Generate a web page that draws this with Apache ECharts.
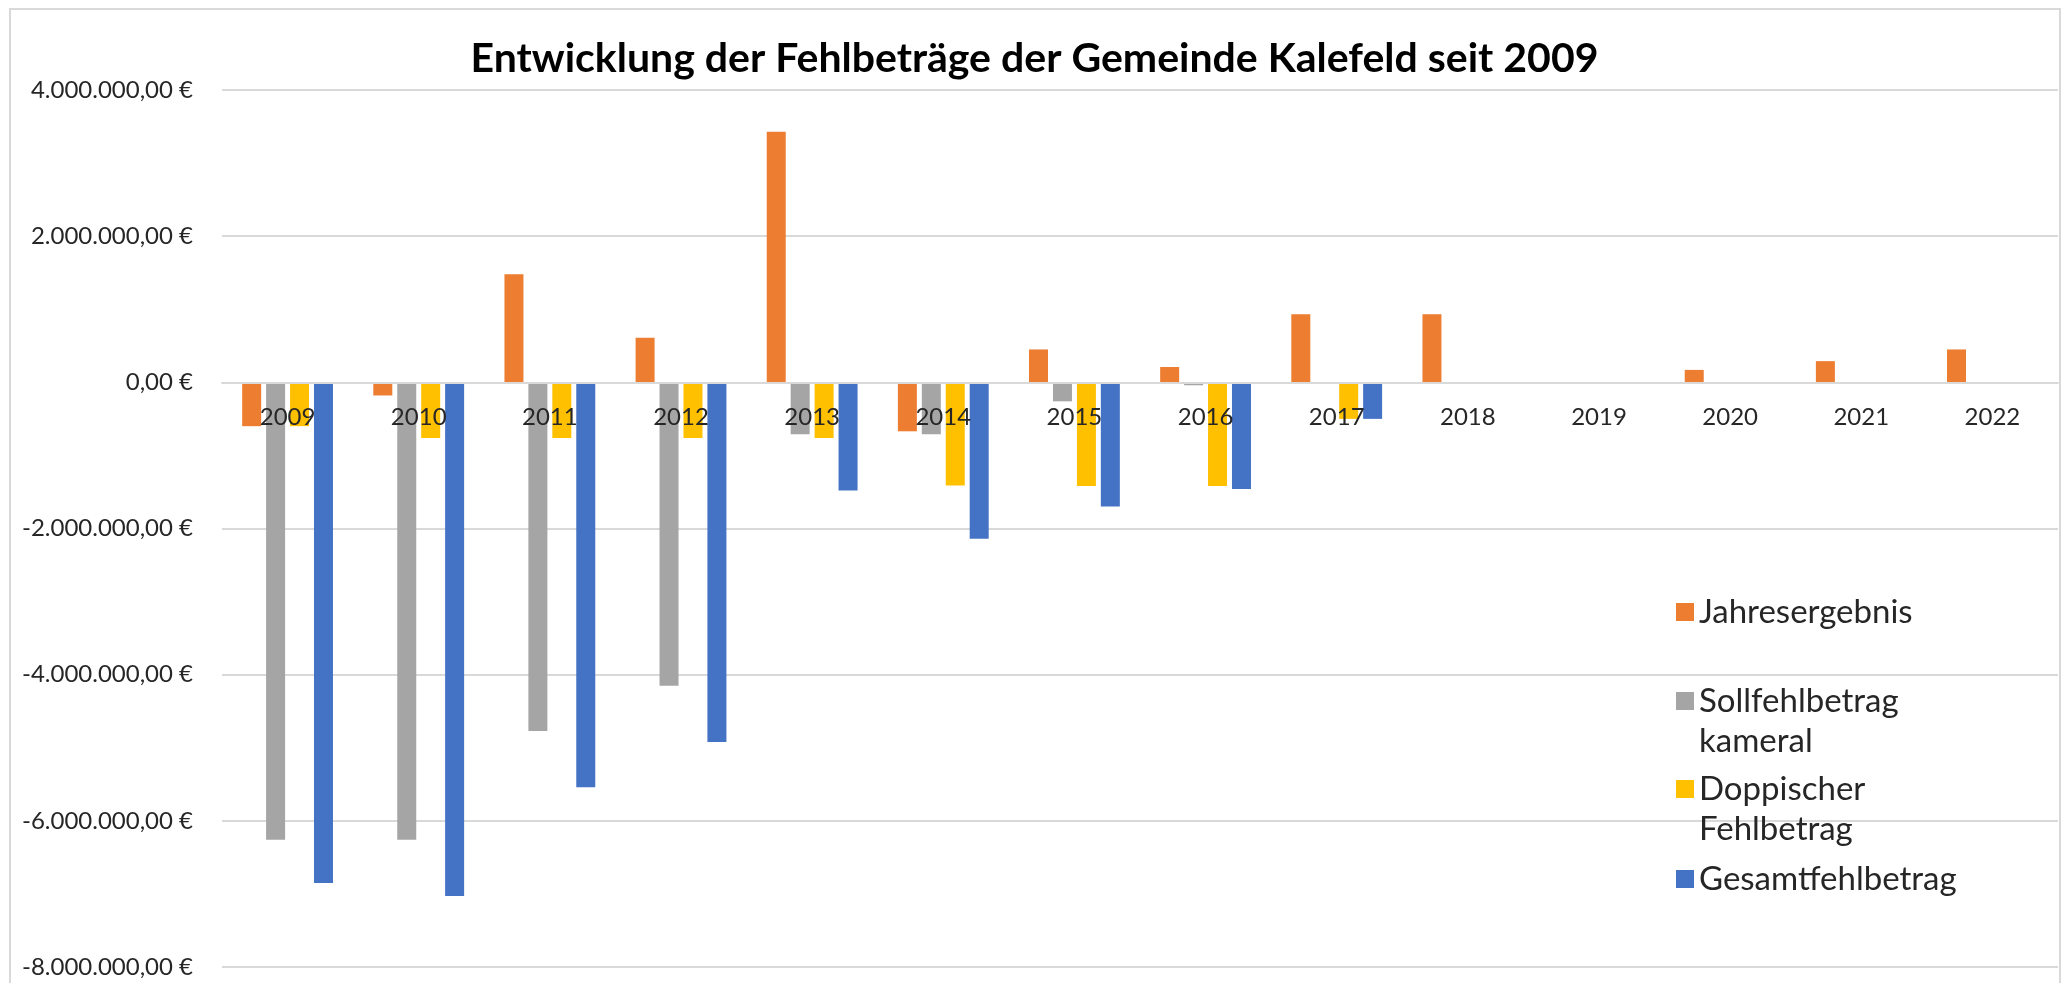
<!DOCTYPE html>
<html>
<head>
<meta charset="utf-8">
<title>Fehlbeträge Kalefeld</title>
<script src="https://cdn.jsdelivr.net/npm/echarts@6/dist/echarts.min.js"></script>
<style>
  html, body { margin: 0; padding: 0; background: #fff; }
  #mainChart { width: 2069px; height: 983px; }
</style>
</head>
<body>
<div id="mainChart"></div>
<script>
// Jahre
const years = ['2009', '2010', '2011', '2012', '2013', '2014', '2015', '2016', '2017', '2018', '2019', '2020', '2021', '2022'];

// Werte in Euro
const jahresergebnis = [-600000, -180000, 1480000, 610000, 3430000, -670000, 450000, 210000, 930000, 930000, 0, 170000, 290000, 450000];
const sollfehlbetrag = [-6260000, -6260000, -4770000, -4150000, -710000, -710000, -260000, -40000, 0, 0, 0, 0, 0, 0];
const doppischer = [-600000, -760000, -760000, -760000, -760000, -1410000, -1420000, -1420000, -500000, 0, 0, 0, 0, 0];
const gesamtfehlbetrag = [-6850000, -7030000, -5540000, -4920000, -1480000, -2140000, -1700000, -1460000, -500000, 0, 0, 0, 0, 0];

const seriesNames = ['Jahresergebnis', 'Sollfehlbetrag kameral', 'Doppischer Fehlbetrag', 'Gesamtfehlbetrag'];
const legendText = {
  'Jahresergebnis': 'Jahresergebnis',
  'Sollfehlbetrag kameral': 'Sollfehlbetrag\nkameral',
  'Doppischer Fehlbetrag': 'Doppischer\nFehlbetrag',
  'Gesamtfehlbetrag': 'Gesamtfehlbetrag'
};
const colors = ['#ED7D31', '#A5A5A5', '#FFC000', '#4472C4'];

const FONT = 'Lato';

const Y_MIN = -8000000, Y_MAX = 4000000;
const GRID_TOP = 90, GRID_BOTTOM = 16, CHART_H = 983;

// 4.000.000,00 €
function euro(v) {
  const neg = v < 0;
  let s = String(Math.abs(Math.round(v)));
  s = s.replace(/\B(?=(\d{3})+(?!\d))/g, '.');
  return (neg ? '-' : '') + s + ',00 €';
}

function makeSeries(name, data, color) {
  return {
    name: name,
    type: 'bar',
    data: data,
    barWidth: 19,
    barGap: '26%',
    itemStyle: { color: color }
  };
}

// legend icon centres; one legend per entry so the square sits on the first text line
const legendIconY = [612, 701, 789, 879];
const LINE = 40;
// square at the top of an 80px high icon box (for two-line labels)
const topSquare = 'path://M0,11L18,11L18,29L0,29Z M0,0L0,0 M0,80L0,80';
const legends = seriesNames.map(function (name, i) {
  const twoLines = legendText[name].indexOf('\n') >= 0;
  return {
    data: [name],
    orient: 'vertical',
    left: 1676,
    top: legendIconY[i] - LINE / 2,
    padding: 0,
    itemWidth: 18,
    itemHeight: twoLines ? 2 * LINE : 18,
    icon: twoLines ? topSquare : 'rect',
    selectedMode: false,
    formatter: function (n) { return legendText[n]; },
    textStyle: {
      fontFamily: FONT,
      fontSize: 33,
      color: '#262626',
      lineHeight: LINE
    }
  };
});

// category axis sits on the zero line
const plotH = CHART_H - GRID_TOP - GRID_BOTTOM;
const zeroOffset = -plotH * (0 - Y_MIN) / (Y_MAX - Y_MIN);

const option = {
  animation: false,
  backgroundColor: '#ffffff',
  title: {
    text: 'Entwicklung der Fehlbeträge der Gemeinde Kalefeld seit 2009',
    left: 'center',
    top: 35,
    padding: 0,
    textStyle: {
      fontFamily: FONT,
      fontWeight: 'bold',
      fontSize: 41,
      lineHeight: 48,
      color: '#000'
    }
  },
  legend: legends,
  grid: {
    left: 222,
    right: 11,
    top: GRID_TOP,
    bottom: GRID_BOTTOM,
    containLabel: false
  },
  xAxis: {
    type: 'category',
    data: years,
    position: 'bottom',
    offset: zeroOffset,
    z: 3,
    axisLine: { onZero: false, lineStyle: { color: '#d9d9d9', width: 2 } },
    axisTick: { show: false },
    axisLabel: {
      margin: 23,
      fontFamily: FONT,
      fontSize: 24,
      color: '#262626'
    }
  },
  yAxis: {
    type: 'value',
    min: Y_MIN,
    max: Y_MAX,
    interval: 2000000,
    axisLine: { show: false },
    axisTick: { show: false },
    splitLine: { lineStyle: { color: '#d9d9d9', width: 2 } },
    axisLabel: {
      margin: 29,
      fontFamily: FONT,
      fontSize: 24,
      color: '#262626',
      formatter: euro
    }
  },
  graphic: [{
    type: 'rect',
    shape: { x: 10, y: 9, width: 2050, height: 1000 },
    style: { fill: 'none', stroke: '#d9d9d9', lineWidth: 2 },
    silent: true,
    z: -1
  }],
  series: [
    makeSeries(seriesNames[0], jahresergebnis, colors[0]),
    makeSeries(seriesNames[1], sollfehlbetrag, colors[1]),
    makeSeries(seriesNames[2], doppischer, colors[2]),
    makeSeries(seriesNames[3], gesamtfehlbetrag, colors[3])
  ]
};

const myChart = echarts.init(document.getElementById('mainChart'));
myChart.setOption(option);
</script>
</body>
</html>
